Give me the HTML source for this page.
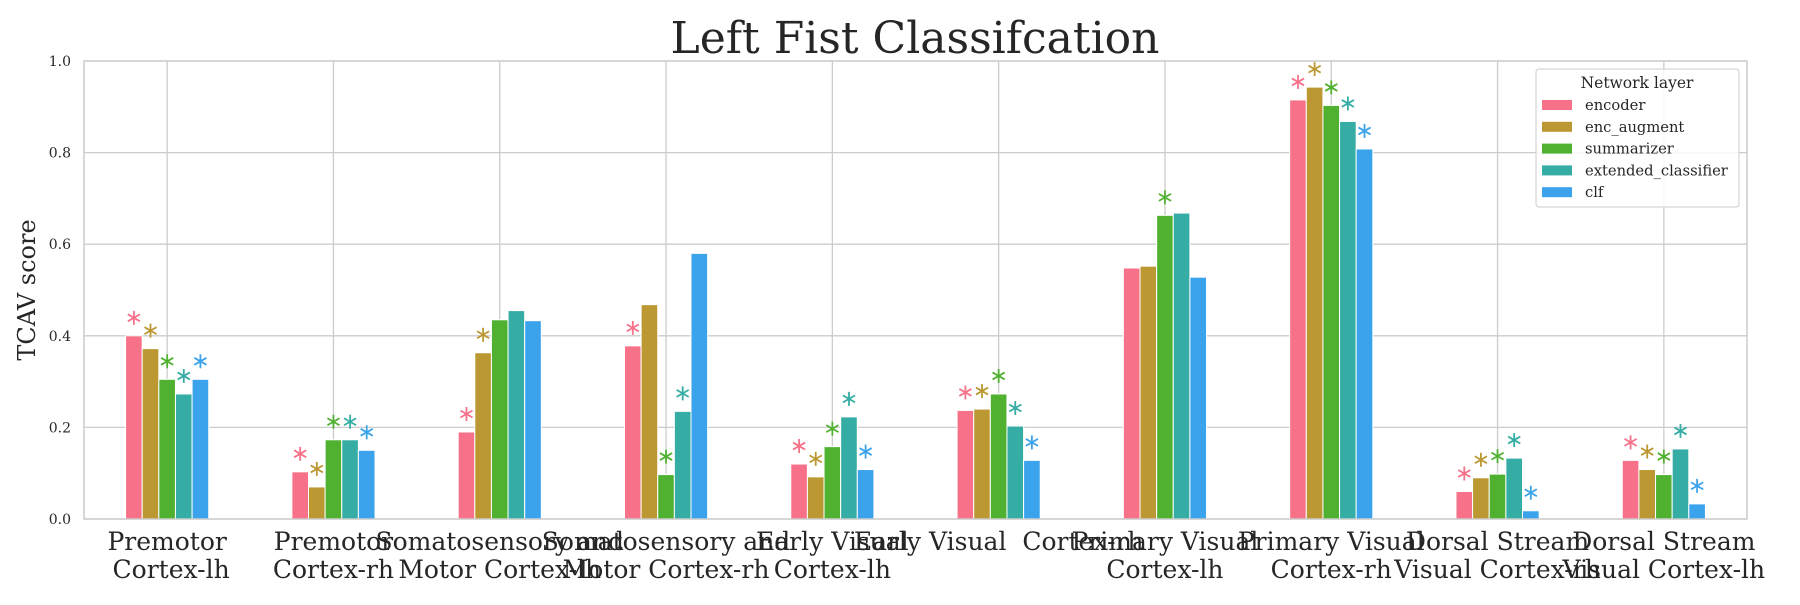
<!DOCTYPE html>
<html><head><meta charset="utf-8"><style>
body{margin:0;background:#fff;}
svg text{font-family:"DejaVu Serif","Liberation Serif",serif;fill:#262626;white-space:pre;}
</style></head><body>
<svg id="chart" width="1800" height="600" xmlns="http://www.w3.org/2000/svg">
<text x="915" y="53" font-size="44" text-anchor="middle">Left Fist Classifcation</text>
<text transform="translate(35,290) rotate(-90)" font-size="24" text-anchor="middle">TCAV score</text>
<g id="grid"></g><g id="bars"></g><g id="stars"></g><g id="ticks"></g>
<rect x="84" y="61" width="1663" height="458" fill="none" stroke="#cccccc" stroke-width="1.5"/>
<g>
<rect x="1536" y="69" width="203" height="138" rx="3" fill="#fff" fill-opacity="0.85" stroke="#cccccc"/>
<text x="1637" y="88" font-size="15.5" text-anchor="middle">Network layer</text>
<g id="legend-items"></g>
</g>
</svg>
<script>
const categories=[["Premotor","Cortex-lh"],["Premotor","Cortex-rh"],["Somatosensory and","Motor Cortex-lh"],["Somatosensory and","Motor Cortex-rh"],["Early Visual","Cortex-lh"],["Early Visual  Cortex-rh"],["Primary Visual","Cortex-lh"],["Primary Visual","Cortex-rh"],["Dorsal Stream","Visual Cortex-rh"],["Dorsal Stream","Visual Cortex-lh"]];
const seriesNames=["encoder","enc_augment","summarizer","extended_classifier","clf"];
const colors=["#f77189","#bb9832","#50b131","#36ada4","#3ba3ec"];
const encoder=[0.40,0.103,0.19,0.378,0.12,0.237,0.548,0.915,0.06,0.128];
const encAugment=[0.372,0.07,0.363,0.468,0.092,0.24,0.552,0.943,0.09,0.108];
const summarizer=[0.305,0.173,0.435,0.097,0.158,0.273,0.663,0.903,0.098,0.097];
const extendedClassifier=[0.273,0.173,0.455,0.235,0.223,0.203,0.668,0.868,0.133,0.153];
const clf=[0.305,0.15,0.433,0.58,0.108,0.128,0.528,0.808,0.018,0.033];
const significant=[[1,1,1,1,1],[1,1,1,1,1],[1,1,0,0,0],[1,0,1,1,0],[1,1,1,1,1],[1,1,1,1,1],[0,0,1,0,0],[1,1,1,1,1],[1,1,1,1,1],[1,1,1,1,1]];
const yTicks=[0,0.2,0.4,0.6,0.8,1.0];
const series=[encoder,encAugment,summarizer,extendedClassifier,clf];
const NS="http://www.w3.org/2000/svg";
const L=84,R=1747,T=61,B=519,gw=(R-L)/categories.length,bw=gw*0.5/5;
const y=v=>B-v*(B-T);
const xc=i=>L+gw*(i+0.5);
function mk(tag,attrs,parent){const e=document.createElementNS(NS,tag);for(const k in attrs)e.setAttribute(k,attrs[k]);parent.appendChild(e);return e;}
const grid=document.getElementById('grid'),bars=document.getElementById('bars'),stars=document.getElementById('stars'),ticks=document.getElementById('ticks');
yTicks.forEach(t=>{
 const g=mk('line',{x1:L,x2:R,y1:y(t),y2:y(t),stroke:'#cccccc','stroke-width':1.3},grid);
 
 
 const tx=mk('text',{x:L-13,y:y(t)+5,'font-size':14,'text-anchor':'end'},ticks);
 tx.textContent=t.toFixed(1);
 
 
});
categories.forEach((c,i)=>{
 const g=mk('line',{x1:xc(i),x2:xc(i),y1:T,y2:B,stroke:'#cccccc','stroke-width':1.3},grid);
 
 
 const tx=mk('text',{x:xc(i),y:550,'font-size':25,'text-anchor':'middle'},ticks);
 
 
 c.forEach((ln,k)=>{const ts=mk('tspan',{x:xc(i)+(k==1&&i==0?4:0),dy:k==0?0:28},tx);ts.textContent=ln;});
 series.forEach((s,j)=>{
  const x0=xc(i)-gw*0.25+j*bw;
  const r=mk('rect',{x:x0,y:y(s[i]),width:bw,height:B-y(s[i]),fill:colors[j],stroke:'#fff','stroke-width':1},bars);
  
  
  if(significant[i][j]){
   const cx=x0+bw/2,cy=y(s[i])-18,rr=7;
   const st=mk('g',{stroke:colors[j],'stroke-width':1.8},stars);
   
   
   [90,30,150].forEach(a=>{const rad=a*Math.PI/180;mk('line',{x1:cx-rr*Math.cos(rad),y1:cy-rr*Math.sin(rad),x2:cx+rr*Math.cos(rad),y2:cy+rr*Math.sin(rad)},st);});
  }
 });
});
const li=document.getElementById('legend-items');
seriesNames.forEach((n,j)=>{
 const yy=105+j*21.8;
 const g=mk('g',{},li);
 
 
 mk('rect',{x:1542,y:yy-5,width:30,height:10,fill:colors[j]},g);
 const t=mk('text',{x:1585,y:yy+5,'font-size':14.7},g);t.textContent=n;
});
</script>
</body></html>
